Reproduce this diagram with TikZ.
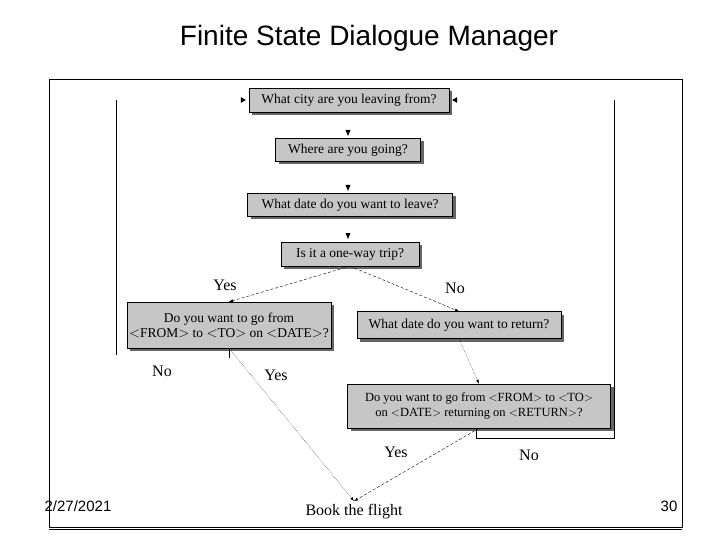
\documentclass[tikz,border=0pt]{standalone}
\usepackage{fontspec}
\setmainfont{Liberation Serif}
\newfontfamily\slidefont{Liberation Sans}
\usetikzlibrary{positioning,shadows}
\tikzset{
  dlgbox/.style={draw, fill=gray!45, font=\fontsize{13.5}{15}\selectfont, align=center,
    inner sep=0pt, drop shadow={shadow xshift=3pt, shadow yshift=-3pt, fill=gray!80!black, opacity=1}},
  flow/.style={densely dashed, -latex, thin},
  lbl/.style={font=\fontsize{16}{16}\selectfont},
  tip/.style={fill=black, inner sep=0pt, minimum size=0pt}
}
\begin{document}
\begin{tikzpicture}[x=1pt, y=-1pt]
    \useasboundingbox (0,0) rectangle (720,540);
    % title and footer
    \node[font=\slidefont\fontsize{28}{28}\selectfont] (title) at (369,38) {Finite State Dialogue Manager};
    \draw (49,79) rectangle (682,527);
    \draw (49,529) -- (682,529);
    \node[font=\slidefont\fontsize{15}{15}\selectfont] (date) at (78,506) {2/27/2021};
    \node[font=\slidefont\fontsize{15}{15}\selectfont] (page) at (669,506) {30};

    % dialogue states
    \node[dlgbox, minimum width=200pt, minimum height=24pt] (city) at (349,100) {What city are you leaving from?};
    \node[dlgbox, minimum width=145pt, minimum height=23pt] (going) at (348,150) {Where are you going?};
    \node[dlgbox, minimum width=205pt, minimum height=23pt] (leave) at (350,205) {What date do you want to leave?};
    \node[dlgbox, minimum width=138pt, minimum height=24pt] (oneway) at (350,254) {Is it a one-way trip?};
    \node[dlgbox, minimum width=204pt, minimum height=46pt] (confone) at (229,325) {Do you want to go from\\$<$FROM$>$ to $<$TO$>$ on $<$DATE$>$?};
    \node[dlgbox, minimum width=204pt, minimum height=27pt] (return) at (459,325) {What date do you want to return?};
    \node[dlgbox, minimum width=263pt, minimum height=44pt, font=\fontsize{12.5}{15}\selectfont] (confret) at (479,406) {Do you want to go from $<$FROM$>$ to $<$TO$>$\\on $<$DATE$>$ returning on $<$RETURN$>$?};
    \node[font=\fontsize{16}{16}\selectfont] (book) at (354,512) {Book the flight};

    % arrow tips above the states
    \foreach \t/\y in {going/133, leave/188, oneway/236}
      \fill (345.5,\y-3) -- (350.5,\y-3) -- (348,\y+3) -- cycle;
    \fill (city.west) ++(-3,0) -- ++(-5,-3) -- ++(0,6) -- cycle;
    \fill (city.east) ++(3,0) -- ++(5,-3) -- ++(0,6) -- cycle;

    % loops back
    \coordinate (lefttop) at (116,100);
    \coordinate (leftbot) at (116,355);
    \draw (lefttop) -- (leftbot);
    \draw (confone.south) -- ++(0,10);
    \coordinate (righttop) at (614,100);
    \coordinate (rightbot) at (614,438);
    \coordinate (rightcorner) at (476,438);
    \draw (righttop) -- (rightbot) -- (rightcorner) -- (rightcorner |- confret.south);

    % transitions
    \draw[flow] (oneway.south) -- (confone.north);
    \draw[flow] (oneway.south) -- (return.north);
    \draw[flow, densely dotted] (confone.south) -- (book.north);
    \draw[flow, densely dotted] (return.south) -- (confret.north);
    \draw[flow] (confret.south) -- (book.north);

    % labels
    \node[lbl] (yes1) at (225,285) {Yes};
    \node[lbl] (no1) at (455,288) {No};
    \node[lbl] (no2) at (162,371) {No};
    \node[lbl] (yes2) at (276,375) {Yes};
    \node[lbl] (yes3) at (396,452) {Yes};
    \node[lbl] (no3) at (529,455) {No};
\end{tikzpicture}
\end{document}
